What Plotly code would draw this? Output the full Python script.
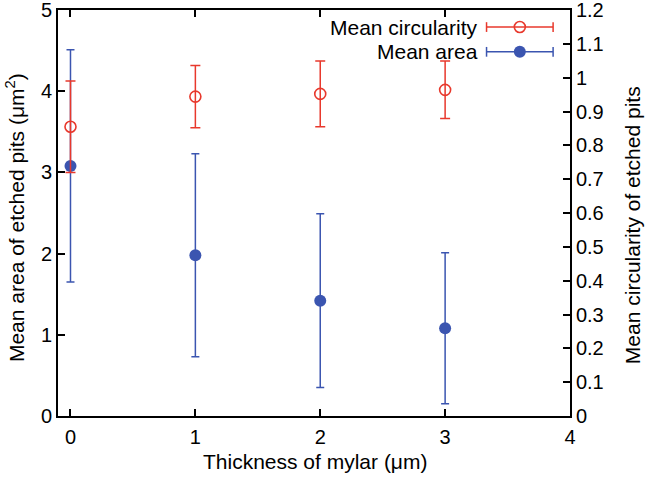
import plotly.graph_objects as go

thickness = [0, 1, 2, 3]
area_mean = [3.08, 1.98, 1.42, 1.08]
area_err = [1.43, 1.25, 1.07, 0.93]
circ_mean = [0.855, 0.944, 0.952, 0.964]
circ_err = [0.135, 0.092, 0.097, 0.085]

x_ticks = [0, 1, 2, 3, 4]
y_ticks = [0, 1, 2, 3, 4, 5]
y2_ticks = [0, 0.1, 0.2, 0.3, 0.4, 0.5, 0.6, 0.7, 0.8, 0.9, 1, 1.1, 1.2]
y2_labels = ["0", "0.1", "0.2", "0.3", "0.4", "0.5", "0.6", "0.7", "0.8", "0.9", "1", "1.1", "1.2"]

RED = "#e8382c"
BLUE = "#3b55b0"
FONT = "Liberation Sans, Arial, Helvetica, sans-serif"
TICK_SIZE = 20
TITLE_SIZE = 21

fig = go.Figure()
fig.add_trace(go.Scatter(
    x=thickness, y=circ_mean, yaxis="y2", mode="markers", name="Mean circularity",
    marker=dict(symbol="circle-open", size=11, color=RED, line=dict(width=1.6, color=RED)),
    error_y=dict(type="data", array=circ_err, color=RED, thickness=1.5, width=5),
    showlegend=False,
))
fig.add_trace(go.Scatter(
    x=thickness, y=area_mean, mode="markers", name="Mean area",
    marker=dict(symbol="circle", size=12, color=BLUE),
    error_y=dict(type="data", array=area_err, color=BLUE, thickness=1.5, width=4),
    showlegend=False,
))

# manual legend with horizontal error-bar samples
legend = [("Mean circularity", RED, "circle-open", 0.958), ("Mean area", BLUE, "circle", 0.897)]
xl0, xl1 = 0.837, 0.967
for name, col, sym, yy in legend:
    fig.add_shape(type="line", xref="paper", yref="paper", x0=xl0, x1=xl1, y0=yy, y1=yy,
                  line=dict(color=col, width=1.5))
    for xe in (xl0, xl1):
        fig.add_shape(type="line", xref="paper", yref="paper", x0=xe, x1=xe,
                      y0=yy - 0.012, y1=yy + 0.012, line=dict(color=col, width=1.5))
    if sym == "circle-open":
        mk = dict(symbol=sym, size=11, color=col, line=dict(width=1.6, color=col))
    else:
        mk = dict(symbol=sym, size=12, color=col)
    fig.add_trace(go.Scatter(
        x=[(xl0 + xl1) / 2], y=[yy], xaxis="x3", yaxis="y3", mode="markers",
        marker=mk, showlegend=False, hoverinfo="skip",
    ))
    fig.add_annotation(xref="paper", yref="paper", x=0.825, y=yy, text=name,
                       showarrow=False, xanchor="right", yanchor="middle",
                       font=dict(size=TITLE_SIZE, color="black", family=FONT))

# axis titles as annotations for exact placement
fig.add_annotation(xref="paper", yref="paper", x=0.502, y=-0.113, text="Thickness of mylar (μm)",
                   showarrow=False, xanchor="center", yanchor="middle",
                   font=dict(size=TITLE_SIZE, color="black", family=FONT))
fig.add_annotation(xref="paper", yref="paper", x=-0.084, y=0.49,
                   text="Mean area of etched pits (μm<sup>2</sup>)", textangle=-90,
                   showarrow=False, xanchor="center", yanchor="middle",
                   font=dict(size=TITLE_SIZE, color="black", family=FONT))
fig.add_annotation(xref="paper", yref="paper", x=1.121, y=0.47,
                   text="Mean circularity of etched pits", textangle=-90,
                   showarrow=False, xanchor="center", yanchor="middle",
                   font=dict(size=TITLE_SIZE, color="black", family=FONT))

axis_common = dict(showgrid=False, zeroline=False, showline=True, linecolor="black",
                   linewidth=1.8, ticks="inside", ticklen=7, tickwidth=1.5, tickcolor="black",
                   automargin=False, ticklabeloverflow="allow",
                   tickfont=dict(size=TICK_SIZE, family=FONT, color="black"))

fig.update_layout(
    width=647, height=477,
    margin=dict(l=58, r=77, t=10, b=61),
    plot_bgcolor="white", paper_bgcolor="white",
    font=dict(family=FONT, color="black"),
    xaxis=dict(range=[-0.1, 4], tickvals=x_ticks, mirror="ticks", ticklabelstandoff=2,
               **axis_common),
    yaxis=dict(range=[0, 5], tickvals=y_ticks, **axis_common),
    yaxis2=dict(range=[0, 1.2], overlaying="y", side="right",
                tickvals=y2_ticks, ticktext=y2_labels, **axis_common),
    xaxis3=dict(domain=[0, 1], range=[0, 1], visible=False, anchor="y3", overlaying="x"),
    yaxis3=dict(domain=[0, 1], range=[0, 1], visible=False, anchor="x3", overlaying="y"),
)

fig.write_html("out.html", config={"displayModeBar": False},
               post_script="document.body.style.margin='0px';document.body.style.overflow='hidden';")
